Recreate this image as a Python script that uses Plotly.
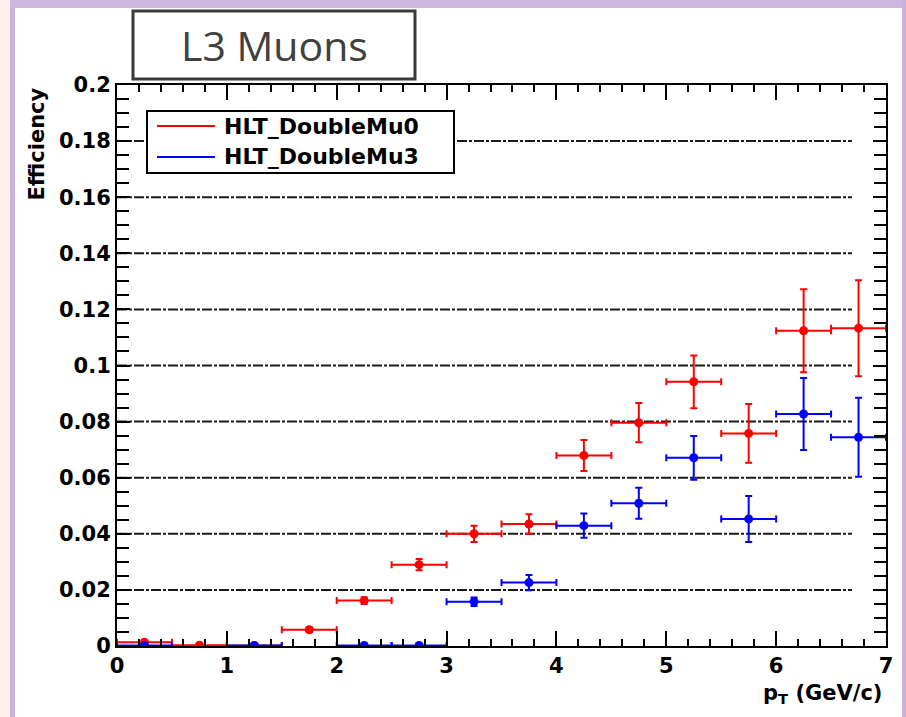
import plotly.graph_objects as go

# ---- data ---------------------------------------------------------------
pt_bin_edges = [0.0, 0.5, 1.0, 1.5, 2.0, 2.5, 3.0, 3.5, 4.0, 4.5, 5.0, 5.5, 6.0, 6.5, 7.0]

series_names = ["HLT_DoubleMu0", "HLT_DoubleMu3"]
series_colors = ["#ff0000", "#0000ff"]

eff_mu0 = [0.0013, 0.0003, 0.0002, 0.0058, 0.0162, 0.0290, 0.0400,
           0.0435, 0.0679, 0.0796, 0.0942, 0.0758, 0.1124, 0.1133]
err_mu0 = [0.0007, 0.0003, 0.0002, 0.0008, 0.0012, 0.0020, 0.0029,
           0.0035, 0.0055, 0.0070, 0.0094, 0.0105, 0.0148, 0.0171]

eff_mu3 = [0.0002, None, 0.0002, None, 0.0002, 0.0002, 0.0158,
           0.0226, 0.0429, 0.0509, 0.0671, 0.0453, 0.0827, 0.0744]
err_mu3 = [0.0003, None, 0.0002, None, 0.0002, 0.0002, 0.0015,
           0.0027, 0.0043, 0.0055, 0.0078, 0.0082, 0.0128, 0.0141]

x_tick_vals = [0, 1, 2, 3, 4, 5, 6, 7]
x_tick_text = ["0", "1", "2", "3", "4", "5", "6", "7"]
y_tick_vals = [0, 0.02, 0.04, 0.06, 0.08, 0.10, 0.12, 0.14, 0.16, 0.18, 0.20]
y_tick_text = ["0", "0.02", "0.04", "0.06", "0.08", "0.1", "0.12", "0.14",
               "0.16", "0.18", "0.2"]
grid_y_vals = y_tick_vals[1:-1]

title_text = "L3 Muons"
x_title = "p<sub>T</sub> (GeV/c)"
y_title = "Efficiency"

# ---- geometry helpers ---------------------------------------------------
FIG_W, FIG_H = 906, 717
M_L, M_R, M_T, M_B = 117, 20, 85, 71
PLOT_W = FIG_W - M_L - M_R
PLOT_H = FIG_H - M_T - M_B


def px(xp):
    return (xp - M_L) / PLOT_W


def py(yp):
    return (FIG_H - M_B - yp) / PLOT_H


centers = [(a + b) / 2 for a, b in zip(pt_bin_edges[:-1], pt_bin_edges[1:])]
half_w = [(b - a) / 2 for a, b in zip(pt_bin_edges[:-1], pt_bin_edges[1:])]

AX_FONT = "DejaVu Sans"

fig = go.Figure()
for name, color, eff, err in zip(series_names, series_colors,
                                 [eff_mu0, eff_mu3], [err_mu0, err_mu3]):
    fig.add_trace(go.Scatter(
        x=centers, y=eff, name=name, mode="markers",
        marker=dict(color=color, size=9, line=dict(width=0)),
        error_y=dict(type="data", array=err, color=color, thickness=2, width=3.5),
        error_x=dict(type="data", array=half_w, color=color, thickness=2, width=3.5),
        showlegend=False,
    ))

shapes = []
# dash-dot horizontal grid
for gy in grid_y_vals:
    shapes.append(dict(type="line", xref="x", yref="y", x0=0, x1=6.69, y0=gy, y1=gy,
                       line=dict(color="#1a1a1a", width=2, dash="10px,2px,3px,2px"),
                       layer="below"))

# slide frame decoration
shapes += [
    dict(type="rect", xref="paper", yref="paper", x0=px(0), x1=px(10), y0=py(717), y1=py(0),
         fillcolor="#fdf1ee", line=dict(width=0), layer="below"),
    dict(type="rect", xref="paper", yref="paper", x0=px(10), x1=px(15), y0=py(717), y1=py(3),
         fillcolor="#c9b2dc", line=dict(width=0), layer="below"),
    dict(type="rect", xref="paper", yref="paper", x0=px(10), x1=px(906), y0=py(8), y1=py(0),
         fillcolor="#cdb9e0", line=dict(width=0), layer="below"),
    dict(type="rect", xref="paper", yref="paper", x0=px(902), x1=px(906), y0=py(717), y1=py(0),
         fillcolor="#c9b2dc", line=dict(width=0), layer="below"),
]

# title box
shapes.append(dict(type="rect", xref="paper", yref="paper",
                   x0=px(133), x1=px(415), y0=py(79), y1=py(11),
                   fillcolor="white", line=dict(color="#3a3a3a", width=3), layer="above"))

# legend box with line samples
shapes.append(dict(type="rect", xref="paper", yref="paper",
                   x0=px(147), x1=px(454), y0=py(173), y1=py(111),
                   fillcolor="white", line=dict(color="black", width=2), layer="above"))
legend_rows = [126, 157]
annotations = []
for name, color, row in zip(series_names, series_colors, legend_rows):
    shapes.append(dict(type="line", xref="paper", yref="paper",
                       x0=px(157), x1=px(215), y0=py(row), y1=py(row),
                       line=dict(color=color, width=2), layer="above"))
    annotations.append(dict(xref="paper", yref="paper", x=px(222), y=py(row),
                            xanchor="left", yanchor="middle", showarrow=False,
                            text=name,
                            font=dict(family=AX_FONT, size=22, color="black", weight="bold")))

annotations += [
    dict(xref="paper", yref="paper", x=px(274), y=py(45), xanchor="center", yanchor="middle",
         showarrow=False, text=title_text,
         font=dict(family="Open Sans", size=41, color="#404040")),
    dict(xref="paper", yref="paper", x=px(884), y=py(679), xanchor="right", yanchor="top",
         showarrow=False, text=x_title,
         font=dict(family=AX_FONT, size=21, color="black", weight="bold")),
    dict(xref="paper", yref="paper", x=px(36), y=py(86), xanchor="center", yanchor="top",
         showarrow=False, text=y_title, textangle=-90,
         font=dict(family=AX_FONT, size=21, color="black", weight="bold")),
]

fig.update_layout(
    width=FIG_W, height=FIG_H,
    margin=dict(l=M_L, r=M_R, t=M_T, b=M_B, pad=0),
    paper_bgcolor="white", plot_bgcolor="white",
    shapes=shapes, annotations=annotations,
    showlegend=False,
)
fig.update_xaxes(
    range=[0, 7], tickmode="array", tickvals=x_tick_vals, ticktext=x_tick_text,
    ticks="inside", ticklen=15, tickwidth=2, tickcolor="black",
    minor=dict(dtick=0.2, tick0=0, ticks="inside", ticklen=7, tickwidth=2, tickcolor="black"),
    showline=True, linecolor="black", linewidth=2, mirror="ticks",
    showgrid=False, zeroline=False,
    tickfont=dict(family=AX_FONT, size=21, color="black", weight="bold"),
)
fig.update_yaxes(
    range=[0, 0.2], tickmode="array", tickvals=y_tick_vals, ticktext=y_tick_text,
    ticks="inside", ticklen=13, tickwidth=2, tickcolor="black",
    minor=dict(dtick=0.005, tick0=0, ticks="inside", ticklen=12, tickwidth=2, tickcolor="black"),
    showline=True, linecolor="black", linewidth=2, mirror="ticks",
    showgrid=False, zeroline=False,
    tickfont=dict(family=AX_FONT, size=21, color="black", weight="bold"),
)

fig.write_html("out.html")
